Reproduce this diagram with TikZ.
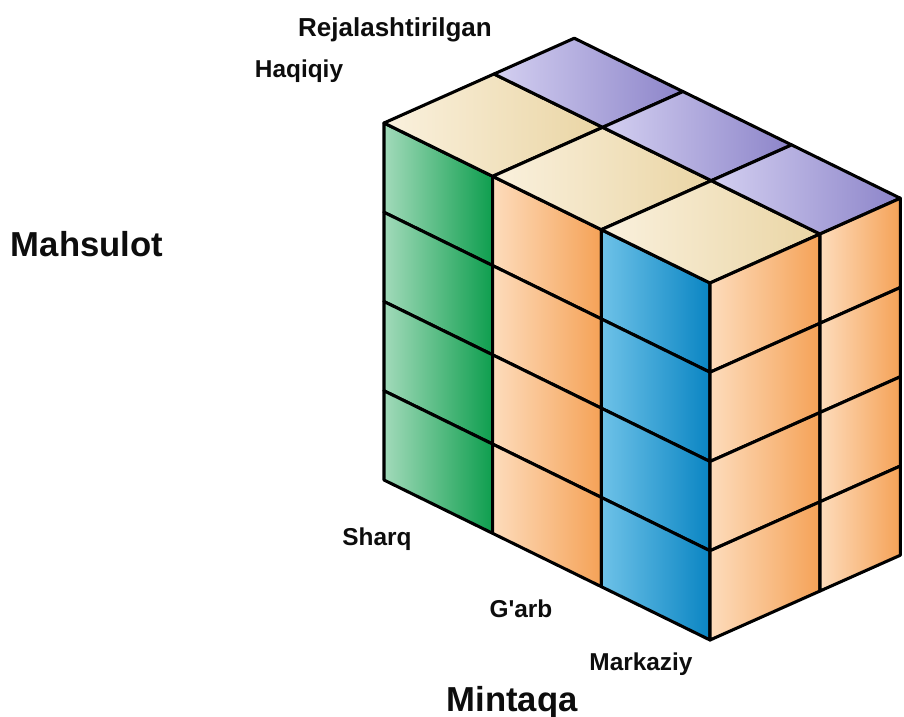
\documentclass[tikz,border=0pt]{standalone}
\usepackage{fontspec}
\setmainfont{Liberation Sans}
\definecolor{grnL}{HTML}{A2DABA}
\definecolor{grnD}{HTML}{0E9E4E}
\definecolor{orgL}{HTML}{FDDCBC}
\definecolor{orgD}{HTML}{F5A257}
\definecolor{bluL}{HTML}{6EC2E8}
\definecolor{bluD}{HTML}{0A85C3}
\definecolor{crmL}{HTML}{FAF1DE}
\definecolor{crmD}{HTML}{EAD5A4}
\definecolor{prpL}{HTML}{D4D0F1}
\definecolor{prpD}{HTML}{8C84C9}
\begin{document}
\begin{tikzpicture}[x=0.75pt, y=-0.75pt, line join=round,
  cell/.style={draw=black, line width=2.3pt},
  grncell/.style={cell, left color=grnL, right color=grnD},
  orgcell/.style={cell, left color=orgL, right color=orgD},
  blucell/.style={cell, left color=bluL, right color=bluD},
  crmcell/.style={cell, left color=crmL, right color=crmD},
  prpcell/.style={cell, left color=prpL, right color=prpD},
  lbl/.style={anchor=base, inner sep=0pt, text=black!95, font=\bfseries\fontsize{18.3}{22}\selectfont},
  biglbl/.style={lbl, font=\bfseries\fontsize{26}{30}\selectfont}]
  \useasboundingbox (0,0) rectangle (904,717);
  \begin{scope}[shift={(384,123)}, x={(81.5pt,-40pt)}, y={(0pt,-66.94pt)}, z={(82.5pt,36.75pt)}]
    \foreach \s [count=\i from 0] in {grncell,orgcell,blucell}
      \foreach \j in {0,...,3}
        \draw[\s] (\i,\j,0) -- ({\i+1},\j,0) -- ({\i+1},{\j+1},0) -- (\i,{\j+1},0) -- cycle;
    \foreach \i in {0,1,2} {
      \draw[crmcell] (\i,0,0) -- ({\i+1},0,0) -- ({\i+1},0,1) -- (\i,0,1) -- cycle;
      \draw[prpcell] (\i,0,1) -- ({\i+1},0,1) -- ({\i+1},0,1.73) -- (\i,0,1.73) -- cycle;
    }
    \foreach \k/\l in {0/1,1/1.73}
      \foreach \j in {0,...,3}
        \draw[orgcell] (3,\j,\k) -- (3,{\j+1},\k) -- (3,{\j+1},\l) -- (3,\j,\l) -- cycle;
  \end{scope}
  \node[lbl, font=\bfseries\fontsize{19.5}{23}\selectfont] (rejalashtirilgan) at (395,37) {Rejalashtirilgan};
  \node[lbl] (haqiqiy) at (299,78) {Haqiqiy};
  \node[biglbl] (mahsulot) at (87,256) {Mahsulot};
  \node[lbl] (sharq) at (377,545) {Sharq};
  \node[lbl] (garb) at (521,617) {G\textquotesingle arb};
  \node[lbl] (markaziy) at (641,670) {Markaziy};
  \node[biglbl] (mintaqa) at (512,711) {Mintaqa};
\end{tikzpicture}
\end{document}
